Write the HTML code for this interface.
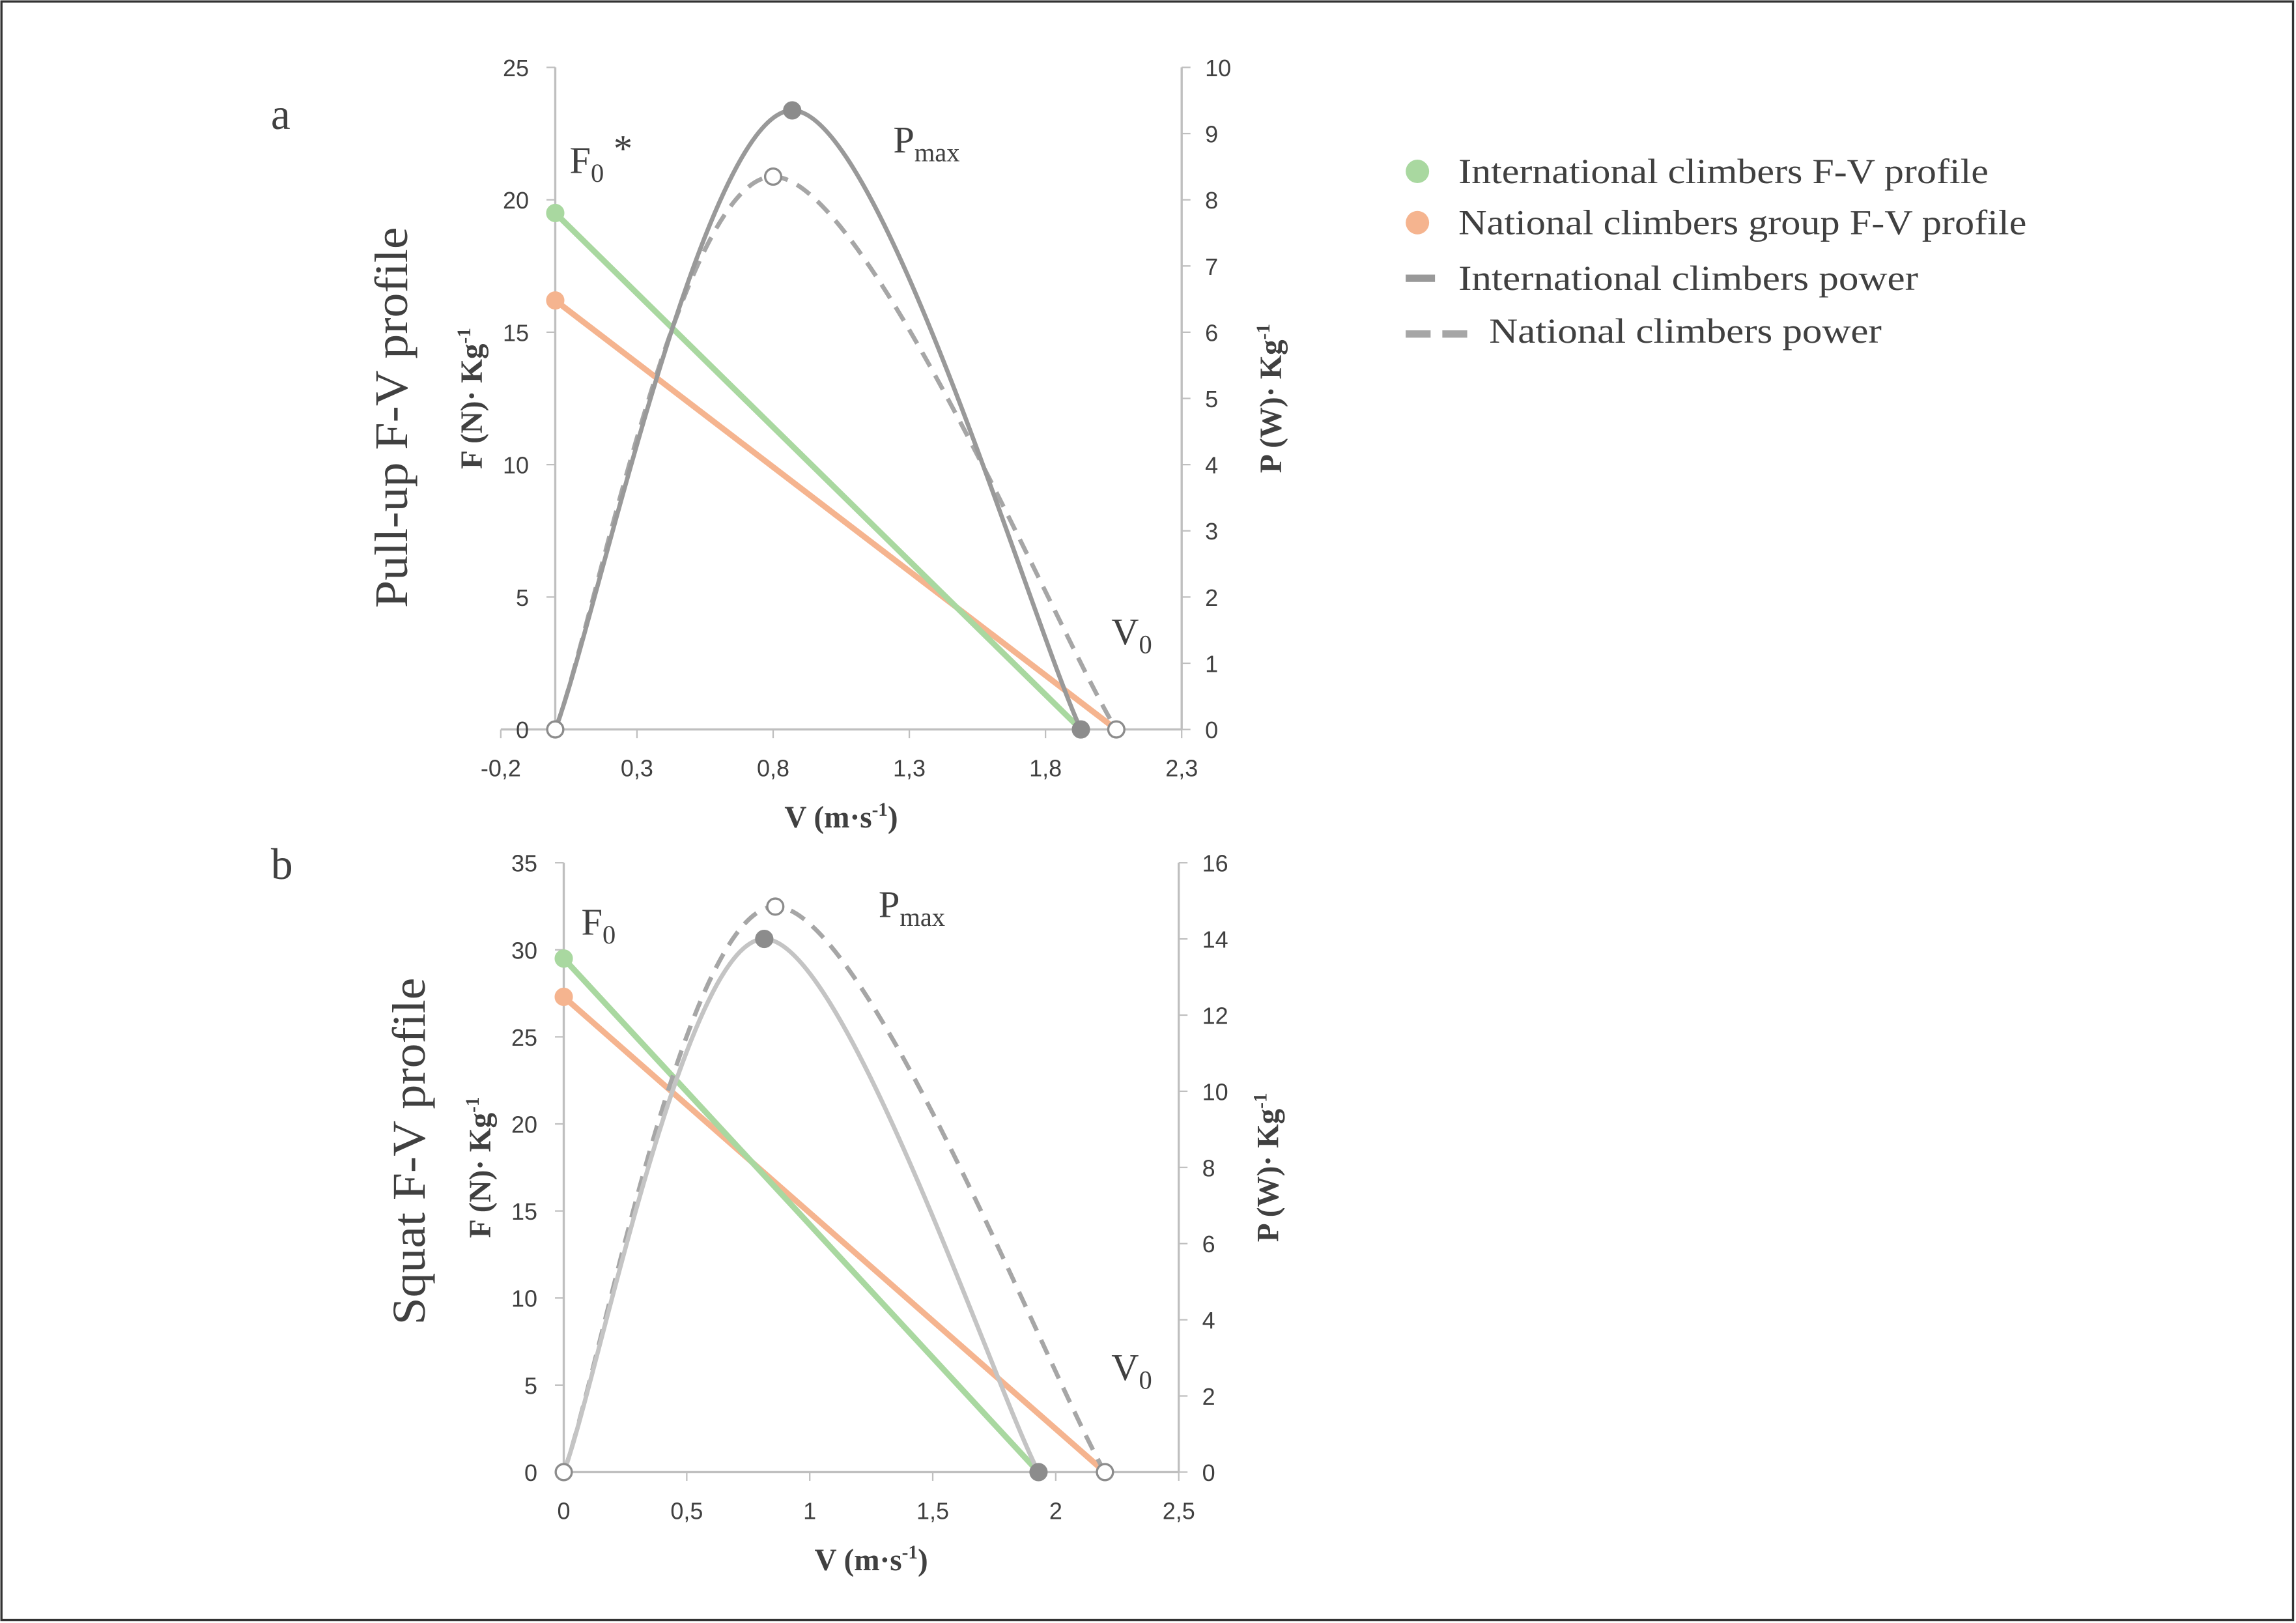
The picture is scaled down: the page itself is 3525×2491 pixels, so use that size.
<!DOCTYPE html>
<html><head><meta charset="utf-8"><style>
html,body{margin:0;padding:0;background:#fff}
svg{display:block}
.t{font-family:"Liberation Sans",sans-serif;font-size:16px;fill:#404040}
.s{font-family:"Liberation Serif",serif;fill:#404040}
</style></head><body>
<svg id="c" width="3525" height="2491" viewBox="0 0 1568 1108" preserveAspectRatio="none" xmlns="http://www.w3.org/2000/svg">
<rect x="1" y="1" width="1565" height="1105" fill="#fff" stroke="#333" stroke-width="1.5"/>
<g>
<g><circle cx="968" cy="117" r="8" fill="#a9d8a0"/><text class="s" x="996" y="125" font-size="24" textLength="362" lengthAdjust="spacingAndGlyphs">International climbers F-V profile</text></g>
<g><circle cx="968" cy="152" r="8" fill="#f5b48f"/><text class="s" x="996" y="160" font-size="24" textLength="388" lengthAdjust="spacingAndGlyphs">National climbers group F-V profile</text></g>
<g><line x1="960" y1="190" x2="980" y2="190" stroke="#999" stroke-width="5"/><text class="s" x="996" y="198" font-size="24" textLength="314" lengthAdjust="spacingAndGlyphs">International climbers power</text></g>
<g><line x1="960" y1="228" x2="1004" y2="228" stroke="#a6a6a6" stroke-width="5" stroke-dasharray="17,8"/><text class="s" x="1017" y="234" font-size="24" textLength="268" lengthAdjust="spacingAndGlyphs">National climbers power</text></g>
</g>
</svg>
<script>
// Chart a data
const aXTicks=[-0.2,0.3,0.8,1.3,1.8,2.3];
const aXTickLabels=["-0,2","0,3","0,8","1,3","1,8","2,3"];
const aYTicks=[0,5,10,15,20,25];
const aY2Ticks=[0,1,2,3,4,5,6,7,8,9,10];
const aIntFV=[[0,19.5],[1.93,0]];
const aNatFV=[[0,16.2],[2.06,0]];
const aIntP=[[0,0],[0.87,9.35],[1.93,0]];
const aNatP=[[0,0],[0.80,8.35],[2.06,0]];
// Chart b data
const bXTicks=[0,0.5,1,1.5,2,2.5];
const bXTickLabels=["0","0,5","1","1,5","2","2,5"];
const bYTicks=[0,5,10,15,20,25,30,35];
const bY2Ticks=[0,2,4,6,8,10,12,14,16];
const bIntFV=[[0,29.5],[1.93,0]];
const bNatFV=[[0,27.3],[2.2,0]];
const bIntP=[[0,0],[0.815,14.0],[1.93,0]];
const bNatP=[[0,0],[0.86,14.85],[2.2,0]];

const svg=document.getElementById('c');
const NS="http://www.w3.org/2000/svg";
function mk(tag,at,parent){const e=document.createElementNS(NS,tag);for(const k in at)e.setAttribute(k,at[k]);(parent||svg).appendChild(e);return e;}
function txt(s,at,parent){const e=mk('text',at,parent);e.textContent=s;return e;}

function chart(cfg){
  const g=mk('g',{});
  
  
  const sx=v=>cfg.x0+(v-cfg.xmin)/(cfg.xmax-cfg.xmin)*(cfg.x1-cfg.x0);
  const sy=v=>cfg.yb-(v-0)/(cfg.ymax)*(cfg.yb-cfg.yt);
  const sy2=v=>cfg.yb-(v-0)/(cfg.y2max)*(cfg.yb-cfg.yt);
  const ax=sx(0);
  const xa=mk('line',{x1:cfg.x0,x2:cfg.x1,y1:cfg.yb,y2:cfg.yb,stroke:'#bfbfbf','stroke-width':1.5},g);
  
  const ya=mk('line',{x1:ax,x2:ax,y1:cfg.yt,y2:cfg.yb,stroke:'#bfbfbf','stroke-width':1.5},g);
  
  const y2a=mk('line',{x1:cfg.x1,x2:cfg.x1,y1:cfg.yt,y2:cfg.yb,stroke:'#bfbfbf','stroke-width':1.5},g);
  
  cfg.xTicks.forEach((v,i)=>{
    mk('line',{x1:sx(v),x2:sx(v),y1:cfg.yb,y2:cfg.yb+6,stroke:'#bfbfbf'},g);
    const t=txt(cfg.xLabels[i],{class:'t',x:sx(v),y:cfg.yb+32,'text-anchor':'middle'},g);
    
  });
  cfg.yTicks.forEach(v=>{
    mk('line',{x1:ax-6,x2:ax,y1:sy(v),y2:sy(v),stroke:'#bfbfbf'},g);
    const t=txt(String(v),{class:'t',x:ax-18,y:sy(v)+6,'text-anchor':'end'},g);
    
  });
  cfg.y2Ticks.forEach(v=>{
    mk('line',{x1:cfg.x1,x2:cfg.x1+6,y1:sy2(v),y2:sy2(v),stroke:'#bfbfbf'},g);
    const t=txt(String(v),{class:'t',x:cfg.x1+16,y:sy2(v)+6},g);
    
  });
  const fv=(d,col,nm)=>{const l=mk('line',{x1:sx(d[0][0]),y1:sy(d[0][1]),x2:sx(d[1][0]),y2:sy(d[1][1]),stroke:col,'stroke-width':4},g);
    };
  fv(cfg.natFV,'#f5b48f','national-fv-line');
  fv(cfg.intFV,'#a9d8a0','international-fv-line');
  const curve=(d,col,dash,nm)=>{
    const p=d.map(q=>[sx(q[0]),sy2(q[1])]);
    let s=`M${p[0][0]},${p[0][1]}`;
    for(let i=0;i<p.length-1;i++){
      const p0=p[Math.max(0,i-1)],p1=p[i],p2=p[i+1],p3=p[Math.min(p.length-1,i+2)];
      const c1=[p1[0]+(p2[0]-p0[0])/6,p1[1]+(p2[1]-p0[1])/6];
      const c2=[p2[0]-(p3[0]-p1[0])/6,p2[1]-(p3[1]-p1[1])/6];
      s+=` C${c1[0]},${c1[1]} ${c2[0]},${c2[1]} ${p2[0]},${p2[1]}`;
    }
    const e=mk('path',{d:s,fill:'none',stroke:col,'stroke-width':3,'stroke-dasharray':dash},g);
    
  };
  curve(cfg.natP,'#a6a6a6','11,7','national-power-curve');
  curve(cfg.intP,cfg.intCol,'none','international-power-curve');
  const dot=(x,y,fill,stroke,nm)=>{const c=mk('circle',{cx:x,cy:y,r:5.5,fill:fill,stroke:stroke,'stroke-width':1.5},g);
    };
  dot(sx(cfg.intFV[0][0]),sy(cfg.intFV[0][1]),'#a9d8a0','#a9d8a0','international-f0-point');
  dot(sx(cfg.natFV[0][0]),sy(cfg.natFV[0][1]),'#f5b48f','#f5b48f','national-f0-point');
  dot(sx(cfg.intP[1][0]),sy2(cfg.intP[1][1]),'#8c8c8c','#8c8c8c','international-pmax-point');
  dot(sx(cfg.natP[1][0]),sy2(cfg.natP[1][1]),'#fff','#8c8c8c','national-pmax-point');
  dot(sx(cfg.intFV[1][0]),sy(0),'#8c8c8c','#8c8c8c','international-v0-point');
  dot(sx(cfg.natFV[1][0]),sy(0),'#fff','#8c8c8c','national-v0-point');
  dot(sx(0),sy(0),'#fff','#8c8c8c','origin-point');
  const yt=(cfg.yt+cfg.yb)/2;
  const l1=txt(cfg.title,{class:'s','font-size':32,transform:`translate(${cfg.titleX},${cfg.titleY}) rotate(-90)`,'text-anchor':'middle',textLength:cfg.titleLen,lengthAdjust:'spacingAndGlyphs'},g);
  
  const yl=mk('text',{class:'s','font-size':21,'font-weight':'bold',transform:`translate(${ax-50},${yt}) rotate(-90)`,'text-anchor':'middle'},g);
  yl.innerHTML='F (N)· Kg<tspan dy="-8" font-size="13">-1</tspan>';
  
  const y2l=mk('text',{class:'s','font-size':21,'font-weight':'bold',transform:`translate(${cfg.x1+68},${yt}) rotate(-90)`,'text-anchor':'middle'},g);
  y2l.innerHTML='P (W)· Kg<tspan dy="-8" font-size="13">-1</tspan>';
  
  const xl=mk('text',{class:'s','font-size':21,'font-weight':'bold',x:(cfg.x0+cfg.x1)/2,y:cfg.yb+67,'text-anchor':'middle'},g);
  xl.innerHTML='V (m·s<tspan dy="-8" font-size="13">-1</tspan><tspan dy="8">)</tspan>';
  
  const lt=txt(cfg.letter,{class:'s','font-size':30,x:cfg.letterX,y:cfg.letterY},g);
  
  const a1=mk('text',{class:'s','font-size':26,x:cfg.f0[0],y:cfg.f0[1]},g);
  a1.innerHTML='F<tspan dy="6" font-size="18">0</tspan>'+(cfg.star?'<tspan dy="-14"> *</tspan>':'');
  
  const a2=mk('text',{class:'s','font-size':26,x:cfg.pm[0],y:cfg.pm[1]},g);
  a2.innerHTML='P<tspan dy="6" font-size="18">max</tspan>';
  
  const a3=mk('text',{class:'s','font-size':26,x:cfg.v0[0],y:cfg.v0[1]},g);
  a3.innerHTML='V<tspan dy="6" font-size="18">0</tspan>';
  
}
chart({name:'pullup-chart',x0:342,x1:807,xmin:-0.2,xmax:2.3,yt:46,yb:498,ymax:25,y2max:10,
  xTicks:aXTicks,xLabels:aXTickLabels,yTicks:aYTicks,y2Ticks:aY2Ticks,
  intFV:aIntFV,natFV:aNatFV,intP:aIntP,natP:aNatP,intCol:'#999',
  title:'Pull-up F-V profile',titleX:278,titleY:285,titleLen:260,letter:'a',letterX:185,letterY:88,
  f0:[389,118],star:true,pm:[610,104],v0:[759,440]});
chart({name:'squat-chart',x0:385,x1:805,xmin:0,xmax:2.5,yt:589,yb:1005,ymax:35,y2max:16,
  xTicks:bXTicks,xLabels:bXTickLabels,yTicks:bYTicks,y2Ticks:bY2Ticks,
  intFV:bIntFV,natFV:bNatFV,intP:bIntP,natP:bNatP,intCol:'#c4c4c4',
  title:'Squat F-V profile',titleX:290,titleY:786,titleLen:237,letter:'b',letterX:185,letterY:600,
  f0:[397,638],star:false,pm:[600,626],v0:[759,942]});
</script>
</body></html>
